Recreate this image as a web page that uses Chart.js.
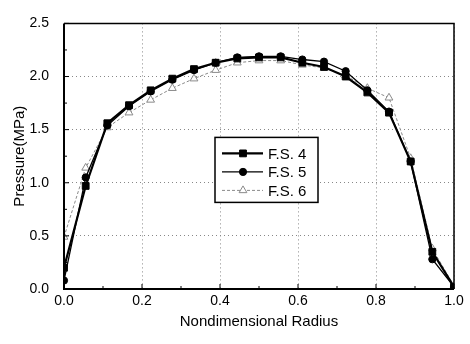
<!DOCTYPE html>
<html>
<head>
<meta charset="utf-8">
<script src="https://cdn.jsdelivr.net/npm/chart.js@4/dist/chart.umd.min.js"></script>
<style>
  html, body { margin: 0; padding: 0; background: #fff; }
  #wrap { width: 470px; height: 344px; }
</style>
</head>
<body>
<div id="wrap"><canvas id="chart" width="470" height="344"></canvas></div>
<script>
// nondimensional radius positions of the measured points
var radius = [0, 0.0556, 0.1111, 0.1667, 0.2222, 0.2778, 0.3333, 0.3889, 0.4444, 0.5,
  0.5556, 0.6111, 0.6667, 0.7222, 0.7778, 0.8333, 0.8889, 0.9444, 1.0];

// pressure (MPa) for each series
var fs4 = [0.20, 0.97, 1.56, 1.73, 1.87, 1.98, 2.07, 2.13, 2.17, 2.18,
  2.18, 2.13, 2.09, 2.00, 1.85, 1.66, 1.20, 0.35, 0.02];
var fs5 = [0.08, 1.05, 1.54, 1.72, 1.86, 1.97, 2.06, 2.13, 2.18, 2.19,
  2.19, 2.16, 2.14, 2.05, 1.87, 1.67, 1.20, 0.28, 0.02];
var fs6 = [0.49, 1.14, 1.52, 1.66, 1.78, 1.89, 1.98, 2.06, 2.13, 2.15,
  2.15, 2.11, 2.08, 2.01, 1.89, 1.80, 1.23, 0.38, 0.03];

var seriesNames = ['F.S. 4', 'F.S. 5', 'F.S. 6'];
var xTicks = [0, 0.2, 0.4, 0.6, 0.8, 1.0];
var yTicks = [0, 0.5, 1.0, 1.5, 2.0, 2.5];

var FONT = '"Liberation Sans", Arial, Helvetica, sans-serif';

function points(ys) {
  return radius.map(function (x, i) { return {x: x, y: ys[i]}; });
}

// frame, inward ticks and the boxed legend
var frameAndTicks = {
  id: 'frameAndTicks',
  afterDraw: function (chart) {
    var ctx = chart.ctx;
    var a = chart.chartArea;
    var xs = chart.scales.x;
    var ys = chart.scales.y;
    ctx.save();
    ctx.strokeStyle = '#000';

    // frame
    ctx.lineWidth = 1.5;
    ctx.beginPath();
    ctx.moveTo(a.left, a.top);
    ctx.lineTo(a.right, a.top);
    ctx.lineTo(a.right, a.bottom);
    ctx.stroke();
    ctx.lineWidth = 2;
    ctx.beginPath();
    ctx.moveTo(a.left, a.top);
    ctx.lineTo(a.left, a.bottom);
    ctx.lineTo(a.right, a.bottom);
    ctx.stroke();

    // ticks, major and minor, pointing in
    ctx.lineWidth = 1;
    for (var v = 0; v <= 10; v++) {
      var px = xs.getPixelForValue(v / 10);
      var len = (v % 2 === 0) ? 5 : 3;
      ctx.beginPath();
      ctx.moveTo(px, a.bottom);
      ctx.lineTo(px, a.bottom - len);
      ctx.stroke();
    }
    for (var w = 0; w <= 10; w++) {
      var py = ys.getPixelForValue(w / 4);
      var ln = (w % 2 === 0) ? 5 : 3;
      ctx.beginPath();
      ctx.moveTo(a.left, py);
      ctx.lineTo(a.left + ln, py);
      ctx.stroke();
    }

    // legend
    var bx = a.left + 151, by = a.top + 114, bw = 103, bh = 65;
    ctx.fillStyle = '#fff';
    ctx.fillRect(bx, by, bw, bh);
    ctx.lineWidth = 1.5;
    ctx.strokeRect(bx, by, bw, bh);

    chart.data.datasets.forEach(function (ds, i) {
      var ry = by + 16 + i * 18.5;
      ctx.save();
      ctx.strokeStyle = ds.borderColor;
      ctx.lineWidth = ds.borderWidth;
      ctx.setLineDash(ds.borderDash || []);
      ctx.beginPath();
      ctx.moveTo(bx + 7, ry);
      ctx.lineTo(bx + 48, ry);
      ctx.stroke();

      ctx.setLineDash([]);
      ctx.fillStyle = ds.pointBackgroundColor;
      ctx.strokeStyle = ds.pointBorderColor;
      ctx.lineWidth = ds.pointBorderWidth;
      Chart.helpers.drawPoint(ctx, {
        pointStyle: ds.pointStyle,
        radius: ds.pointRadius,
        borderWidth: ds.pointBorderWidth,
        rotation: 0
      }, bx + 28, ry);
      ctx.restore();

      ctx.fillStyle = '#000';
      ctx.font = '15px ' + FONT;
      ctx.textBaseline = 'middle';
      ctx.textAlign = 'left';
      ctx.fillText(ds.label, bx + 53, ry + 1);
    });
    ctx.restore();
  }
};

new Chart(document.getElementById('chart'), {
  type: 'scatter',
  data: {
    datasets: [
      {
        label: seriesNames[0],
        data: points(fs4),
        showLine: true,
        borderColor: '#000',
        borderWidth: 2.2,
        pointStyle: 'rect',
        pointRadius: 4.8,
        pointBackgroundColor: '#000',
        pointBorderColor: '#000',
        pointBorderWidth: 1
      },
      {
        label: seriesNames[1],
        data: points(fs5),
        showLine: true,
        borderColor: '#000',
        borderWidth: 1.3,
        pointStyle: 'circle',
        pointRadius: 3.6,
        pointBackgroundColor: '#000',
        pointBorderColor: '#000',
        pointBorderWidth: 1
      },
      {
        label: seriesNames[2],
        data: points(fs6),
        showLine: true,
        borderColor: '#8a8a8a',
        borderWidth: 1,
        borderDash: [3, 2],
        pointStyle: 'triangle',
        pointRadius: 4.5,
        pointBackgroundColor: '#fff',
        pointBorderColor: '#8a8a8a',
        pointBorderWidth: 1
      }
    ]
  },
  options: {
    responsive: false,
    animation: false,
    events: [],
    layout: { padding: { top: 13, right: 16, left: 0, bottom: 0 } },
    plugins: {
      legend: { display: false },
      tooltip: { enabled: false }
    },
    scales: {
      x: {
        type: 'linear',
        min: 0,
        max: 1,
        afterFit: function (s) { s.height = 55; },
        afterBuildTicks: function (s) { s.ticks = xTicks.map(function (v) { return {value: v}; }); },
        grid: { color: '#888', lineWidth: 1, drawTicks: false },
        border: { display: false, dash: [1, 3] },
        ticks: {
          color: '#000',
          padding: 4,
          font: { family: FONT, size: 14 },
          callback: function (v) { return Number(v).toFixed(1); }
        },
        title: {
          display: true,
          text: 'Nondimensional Radius',
          color: '#000',
          font: { family: FONT, size: 15 },
          padding: { top: 0, bottom: 13 }
        }
      },
      y: {
        type: 'linear',
        min: 0,
        max: 2.5,
        afterFit: function (s) { s.width = 64; },
        afterBuildTicks: function (s) { s.ticks = yTicks.map(function (v) { return {value: v}; }); },
        grid: { color: '#888', lineWidth: 1, drawTicks: false },
        border: { display: false, dash: [1, 3] },
        ticks: {
          color: '#000',
          padding: 15,
          font: { family: FONT, size: 14 },
          callback: function (v) { return Number(v).toFixed(1); }
        },
        title: {
          display: true,
          text: 'Pressure(MPa)',
          color: '#000',
          font: { family: FONT, size: 15 },
          padding: { top: 11, bottom: 0 }
        }
      }
    }
  },
  plugins: [frameAndTicks]
});
</script>
</body>
</html>
